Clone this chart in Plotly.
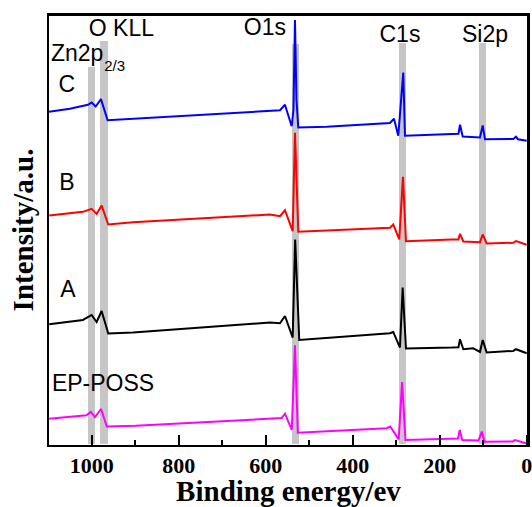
import plotly.graph_objects as go

# Binding energy (eV) and intensity (a.u., arbitrary offset units)
c_energy = [1098, 1050, 1008.5, 1000, 990.8, 978.6, 963.2, 831.5, 590.1, 567.1, 555.6, 540.2, 536.1, 532.6, 529.2, 525,
            459.8, 314.3, 305.1, 295.2, 287.4, 283.7, 279.8, 172.4, 156.8, 153.3, 147.1, 107.4, 101.1, 95.9, 30.8, 24.6, 20, 0]
c_int = [333, 336, 340, 342.3, 338.3, 345.7, 324.5, 327.7, 333.3, 334.5, 340, 318.5, 335, 425, 345, 317.3,
         318, 321.7, 326, 309, 352, 372.3, 309, 310.7, 311, 320, 308.3, 307.3, 319.3, 305.5, 305.7, 308, 305.5, 304]

b_energy = [1097.5, 1020, 1000, 988.5, 977, 961.8, 905, 590.1, 567.1, 555.6, 537.9, 532.6, 525,
            314.3, 306.7, 292.9, 284.4, 277.5, 172.4, 156.8, 153.3, 145.7, 107.4, 101.1, 92, 30.8, 24.6, 0]
b_int = [229, 232.7, 235.7, 230.7, 239, 220, 222.3, 230, 228.3, 234.3, 213.3, 312, 212.7,
         216.7, 220, 205, 267.7, 203.3, 205, 205, 210.7, 203, 202.3, 210, 201, 201.7, 203.3, 199.7]

a_energy = [1097.5, 1020, 1000, 988.5, 977, 961.8, 905, 590.1, 567.1, 555.6, 537.9, 532.2, 522.8,
            314.3, 306.7, 291.3, 285.1, 277.5, 172.4, 156.8, 153.3, 145.7, 123.4, 107.4, 101.1, 92, 30.8, 24.6, 0]
a_int = [120, 124.3, 129.3, 122.3, 133.3, 110.7, 111.7, 121.7, 121, 128.3, 106.7, 205, 104.3,
         111, 112.3, 96.7, 156.7, 95.7, 96.7, 97, 105, 95, 96, 92.3, 104.3, 91.7, 93.3, 95, 91]

p_energy = [1097.7, 1012, 1001.8, 992.4, 978.4, 965.1, 898.9, 563.4, 555.6, 540, 532.6, 526,
            321.6, 313.8, 294.3, 286.4, 278.6, 165.5, 158, 153.8, 148.3, 110.8, 103.2, 96.8, 32.9, 26.7, 0]
p_int = [25.3, 28.7, 32.1, 27, 35.1, 17.5, 18.2, 26, 30.4, 14.1, 99, 11.4,
         15.8, 17.5, 4.6, 62, 4, 5.6, 5.6, 14.1, 4, 3.5, 12.4, 2.2, 2.5, 4, 0.5]

# marker bands (peak positions) and their heights
band_energy = [1000, 972, 532, 286, 101]
band_top = [378, 404, 401, 402, 402]

# peak / sample labels
label_text = ["O KLL", "Zn2p", "2/3", "C", "B", "A", "EP-POSS", "O1s", "C1s", "Si2p"]
label_size = [23, 23, 15, 23, 23, 23, 23, 23, 23, 23]

x_ticks = [1000, 800, 600, 400, 200, 0]
x_ticklabels = ["1000", "800", "600", "400", "200", "0"]

series = [
    ("EP-POSS", p_energy, p_int, "#ff00ff"),
    ("A", a_energy, a_int, "#000000"),
    ("B", b_energy, b_int, "#ff0000"),
    ("C", c_energy, c_int, "#0000ff"),
]

# label placement (layout, in axis coordinates)
label_x = [931.5, 1093.6, 971, 1056.8, 1056.8, 1054.5, 1091.3, 601.6, 291.3, 95.9]
label_y = [415, 390, 378, 359, 260, 153, 59, 416, 409, 409]
label_pos = ["middle center", "middle right", "middle right", "middle center", "middle center",
             "middle center", "middle right", "middle center", "middle center", "middle center"]

sans = "Liberation Sans, Arial, sans-serif"
serif = "Liberation Serif, Times New Roman, serif"

fig = go.Figure()
fig.add_trace(go.Bar(x=band_energy, y=band_top, width=17, marker=dict(color="#c6c6c6", line=dict(width=0)),
                     hoverinfo="skip", showlegend=False))
for name, xe, yi, col in series:
    fig.add_trace(go.Scatter(x=xe, y=yi, mode="lines", name=name,
                             line=dict(color=col, width=2), showlegend=False))
fig.add_trace(go.Scatter(x=label_x, y=label_y, mode="text", text=label_text, textposition=label_pos,
                         textfont=dict(family=sans, size=label_size, color="black"),
                         cliponaxis=False, hoverinfo="skip", showlegend=False))

# plot frame (top and right edges)
fig.add_shape(type="line", xref="x domain", yref="y domain", x0=0, x1=1, y0=1, y1=1,
              line=dict(color="black", width=2), layer="above")
fig.add_shape(type="line", xref="x domain", yref="y domain", x0=1, x1=1, y0=0, y1=1,
              line=dict(color="black", width=2), layer="above")

fig.update_layout(
    width=532, height=507,
    margin=dict(l=49, r=4, t=15, b=62, autoexpand=False),
    plot_bgcolor="white",
    bargap=0,
    xaxis=dict(range=[1098, -3], tickvals=x_ticks, ticktext=x_ticklabels,
               ticks="inside", ticklen=10, tickwidth=2, tickcolor="black",
               minor=dict(dtick=100, tick0=0, ticks="inside", ticklen=5, tickwidth=2, tickcolor="black"),
               showline=True, linewidth=2, linecolor="black", mirror=True,
               showgrid=False, zeroline=False, automargin=False, ticklabeloverflow="allow",
               tickfont=dict(family=serif, size=22, color="black", weight="bold"),
               title=dict(text="Binding energy/ev", standoff=8,
                          font=dict(family=serif, size=29, color="black", weight="bold"))),
    yaxis=dict(range=[-1, 430], showticklabels=False, ticks="",
               showline=True, linewidth=2, linecolor="black", mirror=True,
               showgrid=False, zeroline=False, automargin=False,
               title=dict(text="Intensity/a.u.", standoff=5,
                          font=dict(family=serif, size=29, color="black", weight="bold"))),
)

fig.write_html("out.html", config={"displayModeBar": False},
               post_script="document.body.style.margin='0';document.body.style.overflow='hidden';")
